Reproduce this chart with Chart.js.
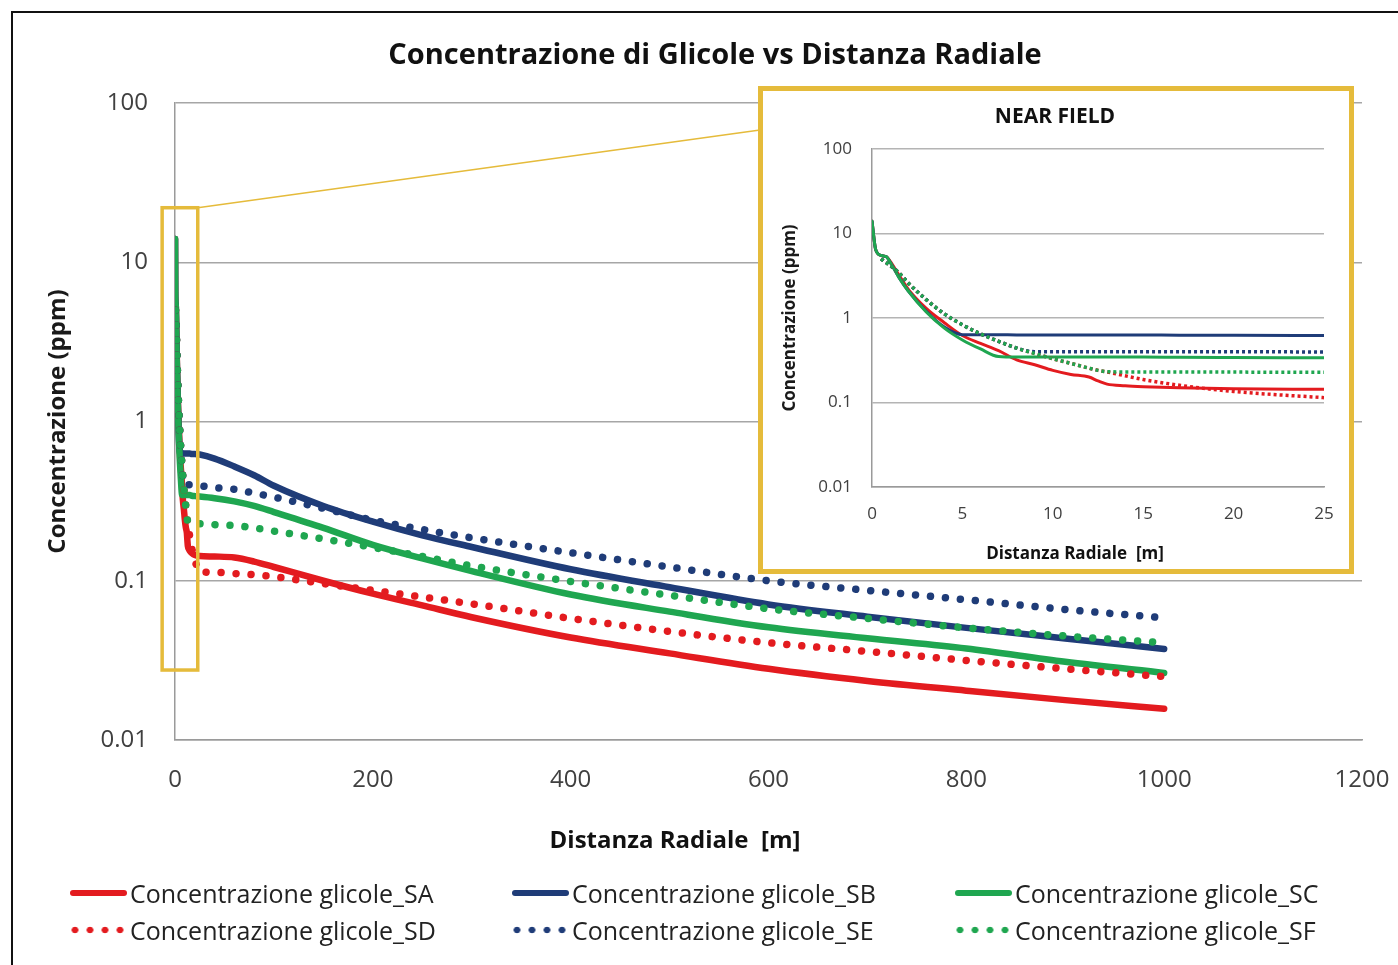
<!DOCTYPE html>
<html>
<head>
<meta charset="utf-8">
<script src="https://cdn.jsdelivr.net/npm/chart.js@4.4.1/dist/chart.umd.min.js"></script>
<style>
    html, body { margin: 0; padding: 0; background: #fff; }
    body { width: 1398px; height: 965px; position: relative; overflow: hidden; font-family: 'Open Sans', sans-serif; }
    #frame { position: absolute; left: 11px; top: 11px; width: 1400px; height: 1000px; border: 2px solid #111; box-sizing: border-box; }
    #mainChart { position: absolute; left: 0; top: 0; }
    #inset { position: absolute; left: 758px; top: 86px; width: 596px; height: 488px; border: 5px solid #e5bb3b; box-sizing: border-box; background: #fff; }
    #insetChart { position: absolute; left: 0; top: 0; }
    .title { position: absolute; font-weight: 700; color: #111; white-space: pre; transform: translate(-50%, -50%); }
    #legend { position: absolute; left: 70px; top: 874px; display: grid; grid-template-columns: 442px 443px 420px; grid-auto-rows: 37px; }
    .item { display: flex; align-items: center; font-size: 25px; color: #222; white-space: pre; }
    .sample { width: 57px; height: 8px; margin-right: 3px; flex: none; }
    .sample.solid { height: 6px; border-radius: 3px; }
</style>
</head>
<body>
<div id="frame"></div>
<canvas id="mainChart" width="1398" height="965"></canvas>
<div class="title" style="left:715px;top:52px;font-size:29px;">Concentrazione di Glicole vs Distanza Radiale</div>
<div class="title" style="left:675px;top:838px;font-size:24px;">Distanza Radiale  [m]</div>
<div id="inset">
    <canvas id="insetChart" width="586" height="478"></canvas>
    <div class="title" style="left:292px;top:24px;font-size:21px;">NEAR FIELD</div>
    <div class="title" style="left:312px;top:461px;font-size:17px;">Distanza Radiale  [m]</div>
</div>
<div id="legend"></div>
<script>
// Series
const seriesNames = ['Concentrazione glicole_SA', 'Concentrazione glicole_SB', 'Concentrazione glicole_SC',
    'Concentrazione glicole_SD', 'Concentrazione glicole_SE', 'Concentrazione glicole_SF'];

// Near field distances (m) and concentrations (ppm)
const nearX = [0, 0.2, 0.5, 0.8, 1, 1.5, 2, 3, 4, 5, 6, 7, 8, 9, 10, 11, 12, 12.5, 13, 14, 15, 17, 20, 25];
const saNear = [14, 6.5, 5.5, 5.3, 4.7, 3.2, 2.2, 1.3, 0.88, 0.62, 0.5, 0.41, 0.32, 0.28, 0.24, 0.215, 0.2, 0.18, 0.165, 0.158, 0.154, 0.149, 0.145, 0.143];
const sbNear = [14, 6.5, 5.5, 5.3, 4.6, 3.0, 2.1, 1.2, 0.78, 0.635, 0.635, 0.635, 0.63, 0.63, 0.63, 0.63, 0.63, 0.63, 0.63, 0.63, 0.63, 0.625, 0.625, 0.62];
const scNear = [14, 6.5, 5.5, 5.3, 4.6, 3.0, 2.1, 1.18, 0.76, 0.55, 0.43, 0.35, 0.345, 0.345, 0.345, 0.345, 0.345, 0.345, 0.345, 0.345, 0.345, 0.342, 0.34, 0.338];
const sdNear = [null, null, 5.0, 4.5, 4.2, 3.4, 2.6, 1.65, 1.12, 0.83, 0.65, 0.53, 0.44, 0.38, 0.33, 0.29, 0.255, 0.24, 0.23, 0.207, 0.187, 0.16, 0.135, 0.114];
const seNear = [null, null, 5.0, 4.5, 4.2, 3.4, 2.6, 1.65, 1.12, 0.83, 0.65, 0.53, 0.44, 0.40, 0.40, 0.40, 0.40, 0.40, 0.40, 0.40, 0.40, 0.40, 0.40, 0.395];
const sfNear = [null, null, 5.0, 4.5, 4.2, 3.4, 2.6, 1.65, 1.12, 0.83, 0.65, 0.53, 0.44, 0.38, 0.33, 0.29, 0.255, 0.24, 0.232, 0.23, 0.23, 0.23, 0.229, 0.228];

// Far field distances (m) and concentrations (ppm)
const farX = [40, 60, 80, 100, 150, 200, 250, 300, 400, 500, 600, 700, 800, 900, 1000];
const saFar = [0.142, 0.14, 0.132, 0.122, 0.1, 0.083, 0.07, 0.059, 0.044, 0.035, 0.028, 0.0235, 0.0204, 0.0178, 0.0157];
const sbFar = [0.585, 0.522, 0.46, 0.395, 0.295, 0.235, 0.193, 0.163, 0.118, 0.091, 0.071, 0.0595, 0.0506, 0.0434, 0.0373];
const scFar = [0.33, 0.315, 0.295, 0.27, 0.215, 0.168, 0.138, 0.115, 0.082, 0.064, 0.051, 0.0435, 0.0375, 0.031, 0.0264];
const sdFar = [0.113, 0.111, 0.109, 0.106, 0.096, 0.087, 0.079, 0.0716, 0.058, 0.048, 0.0408, 0.036, 0.0316, 0.028, 0.025];
const seFar = [0.385, 0.375, 0.355, 0.335, 0.285, 0.24, 0.21, 0.186, 0.15, 0.122, 0.1, 0.087, 0.076, 0.066, 0.0585];
const sfFar = [0.225, 0.222, 0.215, 0.205, 0.183, 0.162, 0.142, 0.124, 0.099, 0.081, 0.0667, 0.058, 0.0506, 0.045, 0.0408];

// Ticks
const yTickValues = [0.01, 0.1, 1, 10, 100];
const yTickLabels = ['0.01', '0.1', '1', '10', '100'];
const mainXTicks = [0, 200, 400, 600, 800, 1000, 1200];
const nearXTicks = [0, 5, 10, 15, 20, 25];

// Styles
const colors = {
    red: '#e31b1f',
    navy: '#1f3c78',
    green: '#1fa650',
    callout: '#e5bb3b'
};
const seriesColors = [colors.red, colors.navy, colors.green, colors.red, colors.navy, colors.green];
const seriesDotted = [false, false, false, true, true, true];

// Zoom box drawn on the main chart around the near field (data units)
const callout = { x0: -13, x1: 23, y0: 0.0275, y1: 22 };

const nearSeries = [saNear, sbNear, scNear, sdNear, seNear, sfNear];
const farSeries = [saFar, sbFar, scFar, sdFar, seFar, sfFar];

function toPoints(xs, ys) {
    return xs.map((x, i) => ({ x: x, y: ys[i] }));
}

function buildDatasets(getValues, getX, style) {
    return seriesNames.map((name, i) => ({
        label: name,
        data: toPoints(getX(i), getValues(i)),
        borderColor: seriesColors[i],
        backgroundColor: seriesColors[i],
        borderWidth: seriesDotted[i] ? style.dotWidth : style.solidWidth,
        borderDash: seriesDotted[i] ? style.dash : [],
        borderCapStyle: seriesDotted[i] ? style.dotCap : 'round',
        borderJoinStyle: 'round',
        pointRadius: 0,
        cubicInterpolationMode: 'monotone',
        // later series drawn on top, like the original workbook
        order: seriesNames.length - i,
        fill: false
    }));
}

function logAxis(fontSize, padding, titleSize, titlePad, gridColor, width) {
    return {
        type: 'logarithmic',
        min: 0.01,
        max: 100,
        afterBuildTicks: function (scale) {
            scale.ticks = yTickValues.map(v => ({ value: v }));
        },
        afterFit: function (scale) {
            scale.width = width;
        },
        ticks: {
            padding: padding,
            color: '#404040',
            font: { family: 'Open Sans', size: fontSize },
            callback: function (value) {
                return yTickLabels[yTickValues.indexOf(value)];
            }
        },
        grid: { color: gridColor, lineWidth: 1.5, drawTicks: false },
        border: { color: '#9a9a9a', width: 1.5 },
        title: {
            display: true,
            text: 'Concentrazione (ppm)',
            color: '#1a1a1a',
            font: { family: 'Open Sans', size: titleSize, weight: 'bold' },
            padding: { top: titlePad, bottom: 0 }
        }
    };
}

function linearAxis(max, tickList, fontSize, padding, height) {
    return {
        type: 'linear',
        min: 0,
        max: max,
        afterBuildTicks: function (scale) {
            scale.ticks = tickList.map(v => ({ value: v }));
        },
        afterFit: function (scale) {
            scale.height = height;
            // the label overhang is covered by layout padding
            scale.paddingLeft = 0;
            scale.paddingRight = 0;
        },
        ticks: {
            padding: padding,
            color: '#404040',
            font: { family: 'Open Sans', size: fontSize },
            callback: function (value) {
                return String(value);
            }
        },
        grid: { display: false, drawTicks: false },
        border: { color: '#9a9a9a', width: 1.5 }
    };
}

const insetEl = document.getElementById('inset');

const calloutPlugin = {
    id: 'callout',
    afterDatasetsDraw(chart) {
        const { ctx, scales } = chart;
        const l = scales.x.getPixelForValue(callout.x0);
        const r = scales.x.getPixelForValue(callout.x1);
        const t = scales.y.getPixelForValue(callout.y1);
        const b = scales.y.getPixelForValue(callout.y0);
        ctx.save();
        ctx.strokeStyle = colors.callout;
        ctx.lineWidth = 1.5;
        ctx.beginPath();
        ctx.moveTo(r, t);
        ctx.lineTo(insetEl.offsetLeft + 2, insetEl.offsetTop + 44);
        ctx.stroke();
        ctx.lineWidth = 3.5;
        ctx.strokeRect(l, t, r - l, b - t);
        ctx.restore();
    }
};

// Main chart (0 - 1200 m)
new Chart(document.getElementById('mainChart'), {
    type: 'line',
    data: {
        datasets: buildDatasets(
            i => nearSeries[i].concat(farSeries[i]),
            () => nearX.concat(farX),
            { solidWidth: 6.5, dotWidth: 7.5, dash: [0.01, 15], dotCap: 'round' }
        )
    },
    options: {
        responsive: false,
        animation: false,
        layout: { padding: { left: 0, right: 36, top: 103, bottom: 0 } },
        plugins: {
            legend: { display: false },
            tooltip: { enabled: false },
            title: { display: false }
        },
        scales: {
            x: linearAxis(1200, mainXTicks, 24, 26, 225),
            y: logAxis(24, 27, 24, 44, '#a6a6a6', 175)
        }
    },
    plugins: [calloutPlugin]
});

// Near field inset (0 - 25 m)
new Chart(document.getElementById('insetChart'), {
    type: 'line',
    data: {
        datasets: buildDatasets(
            i => nearSeries[i],
            () => nearX,
            { solidWidth: 3, dotWidth: 3.5, dash: [3, 3], dotCap: 'butt' }
        )
    },
    options: {
        responsive: false,
        animation: false,
        layout: { padding: { left: 0, right: 25, top: 58, bottom: 0 } },
        plugins: {
            legend: { display: false },
            tooltip: { enabled: false },
            title: { display: false }
        },
        scales: {
            x: linearAxis(25, nearXTicks, 17, 17, 82),
            y: logAxis(17, 20, 17, 17, '#b4b4b4', 109)
        }
    }
});

// Legend
const legendEl = document.getElementById('legend');
seriesNames.forEach((name, i) => {
    const item = document.createElement('div');
    item.className = 'item';
    const sample = document.createElement('span');
    if (seriesDotted[i]) {
        sample.className = 'sample';
        sample.style.backgroundImage = 'radial-gradient(circle, ' + seriesColors[i] + ' 3px, rgba(255,255,255,0) 3.6px)';
        sample.style.backgroundSize = '15px 8px';
        sample.style.backgroundPosition = '-2.5px 0';
        sample.style.backgroundRepeat = 'repeat-x';
    } else {
        sample.className = 'sample solid';
        sample.style.background = seriesColors[i];
    }
    const text = document.createElement('span');
    text.textContent = name;
    item.appendChild(sample);
    item.appendChild(text);
    legendEl.appendChild(item);
});
</script>
</body>
</html>
